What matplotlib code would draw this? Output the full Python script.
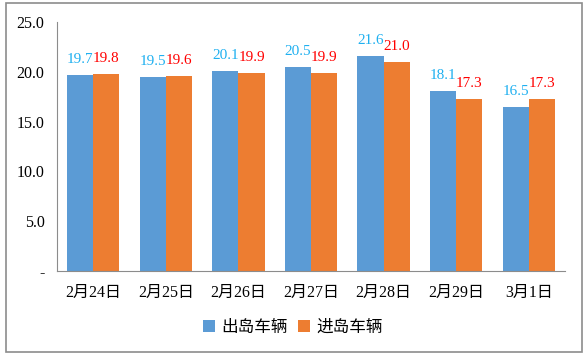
import numpy as np
import matplotlib.pyplot as plt
from matplotlib.patches import Rectangle

dates = ['2月24日', '2月25日', '2月26日', '2月27日', '2月28日', '2月29日', '3月1日']
out_cars = [19.7, 19.5, 20.1, 20.5, 21.6, 18.1, 16.5]
in_cars = [19.8, 19.6, 19.9, 19.9, 21.0, 17.3, 17.3]
yticks = [0, 5, 10, 15, 20, 25]
ytick_labels = ['-', '5.0', '10.0', '15.0', '20.0', '25.0']

fam = ['Liberation Serif', 'Noto Sans CJK SC']
plt.rcParams['font.family'] = fam

fig = plt.figure(figsize=(5.88, 3.58), dpi=100)
fig.patches.append(Rectangle((6/588, 1 - 352/358), 576/588, 349/358,
                             transform=fig.transFigure, fill=False,
                             edgecolor='#8c8c8c', linewidth=1.2))
ax = fig.add_axes([57/588, 1 - 271/358, 508/588, 249/358])

x = np.arange(len(dates))
w = 0.36
b1 = ax.bar(x - w/2, out_cars, w, color='#5B9BD5', label='出岛车辆')
b2 = ax.bar(x + w/2, in_cars, w, color='#ED7D31', label='进岛车辆')

for xi, v in zip(x, out_cars):
    ax.text(xi - w/2, v + 0.9, f'{v:.1f}', ha='center', va='bottom',
            color='#1fb0f0', fontsize=11)
for xi, v in zip(x, in_cars):
    ax.text(xi + w/2, v + 0.9, f'{v:.1f}', ha='center', va='bottom',
            color='#ff0000', fontsize=11)

ax.set_xlim(-0.5, len(dates) - 0.5)
ax.set_ylim(0, 25)
ax.set_yticks(yticks)
ax.set_yticklabels(ytick_labels, fontsize=11.5)
ax.set_xticks(x)
ax.set_xticklabels(dates, fontsize=11.5)
ax.tick_params(length=0, pad=10)
ax.tick_params(axis='y', pad=9)
for s in ['top', 'right']:
    ax.spines[s].set_visible(False)
for s in ['left', 'bottom']:
    ax.spines[s].set_color('#8c8c8c')

fig.legend(handles=[b1, b2], loc='center', bbox_to_anchor=(293/588, 30/358),
           ncol=2, frameon=False, fontsize=12, handlelength=0.7,
           handleheight=0.7, handletextpad=0.4, columnspacing=0.6)

fig.savefig('out.png', dpi=100)
